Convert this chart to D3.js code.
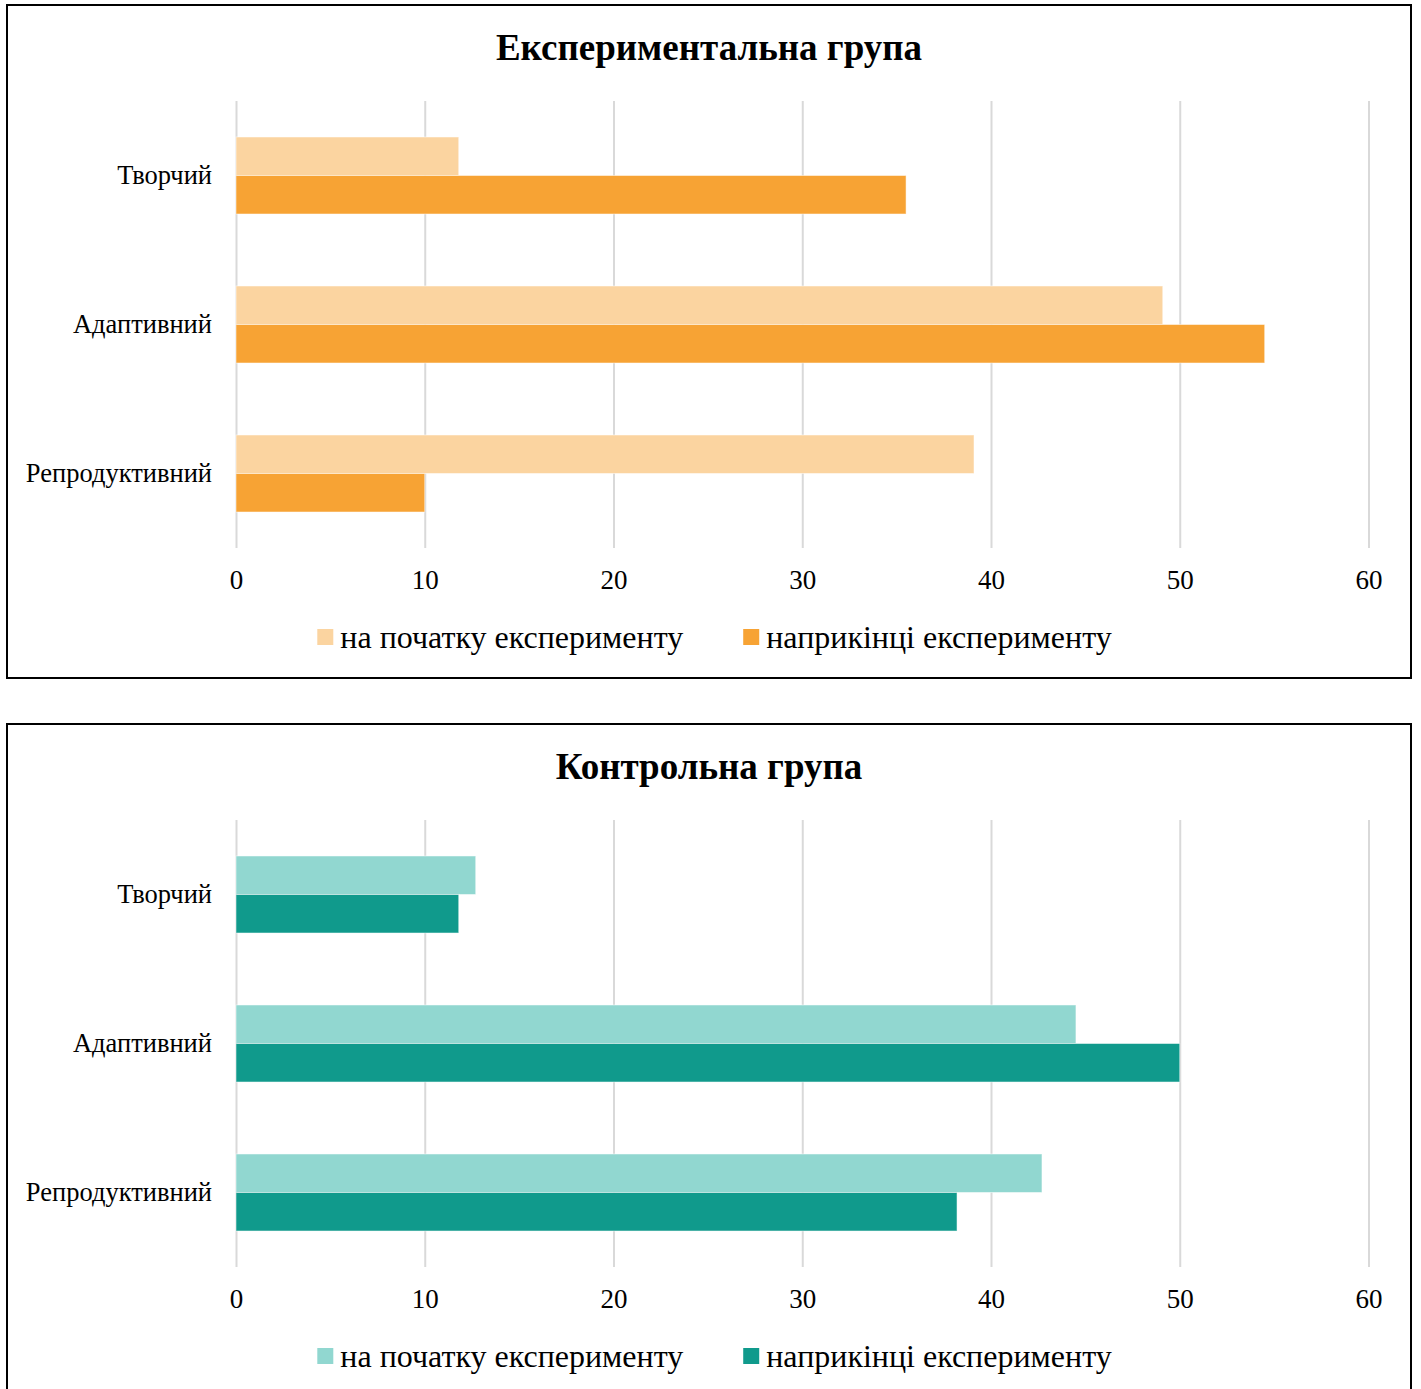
<!DOCTYPE html>
<html>
<head>
<meta charset="utf-8">
<title>Експериментальна і контрольна групи</title>
<script src="https://cdn.jsdelivr.net/npm/d3@7"></script>
<style>
    body { margin: 0; background: #fff; }
    svg text { font-family: "Liberation Serif", "Times New Roman", serif; fill: #000; }
</style>
</head>
<body>
<div id="chart"></div>
<script>
    // values (percent)
    var categories = ["Творчий", "Адаптивний", "Репродуктивний"];
    var seriesNames = ["на початку експерименту", "наприкінці експерименту"];
    var expStart = [11.8, 49.1, 39.1];
    var expEnd = [35.5, 54.5, 10.0];
    var ctrlStart = [12.7, 44.5, 42.7];
    var ctrlEnd = [11.8, 50.0, 38.2];
    var tickValues = [0, 10, 20, 30, 40, 50, 60];

    var svg = d3.select("#chart").append("svg")
        .attr("width", 1421)
        .attr("height", 1389);

    function drawPanel(top, title, startVals, endVals, colors) {
        var g = svg.append("g").attr("transform", "translate(0," + top + ")");

        g.append("rect")
            .attr("x", 7).attr("y", 5)
            .attr("width", 1404).attr("height", 673)
            .attr("fill", "#fff")
            .attr("stroke", "#000")
            .attr("stroke-width", 2);

        g.append("text")
            .attr("x", 709).attr("y", 60)
            .attr("text-anchor", "middle")
            .attr("font-size", "37px")
            .attr("font-weight", "bold")
            .text(title);

        var x = d3.scaleLinear().domain([0, 60]).range([236, 1368.5]);
        var y = d3.scaleBand().domain(categories).range([101, 548])
            .paddingInner(0.483).paddingOuter(0.2415);
        var y1 = d3.scaleBand().domain([0, 1]).range([0, y.bandwidth()]);

        // gridlines + tick labels
        var xAxis = g.append("g")
            .attr("transform", "translate(0,548)")
            .call(d3.axisBottom(x).tickValues(tickValues).tickSize(-447).tickPadding(22));
        xAxis.select(".domain").remove();
        xAxis.selectAll(".tick line").attr("stroke", "#d9d9d9").attr("stroke-width", 2);
        xAxis.selectAll(".tick text")
            .attr("font-size", "27px")
            .attr("fill", "#000");

        var rows = categories.map(function(c, i) {
            return { cat: c, vals: [startVals[i], endVals[i]] };
        });

        var grp = g.selectAll(".cat").data(rows).enter().append("g")
            .attr("transform", function(d) { return "translate(0," + y(d.cat) + ")"; });

        grp.selectAll("rect")
            .data(function(d) { return d.vals; })
            .enter().append("rect")
            .attr("x", x(0))
            .attr("y", function(d, i) { return y1(i); })
            .attr("width", function(d) { return x(d) - x(0); })
            .attr("height", y1.bandwidth())
            .attr("fill", function(d, i) { return colors[i]; })
            .attr("stroke", "#fff")
            .attr("stroke-opacity", 0.5)
            .attr("stroke-width", 1);

        // category labels
        var yAxis = g.append("g")
            .attr("transform", "translate(236,0)")
            .call(d3.axisLeft(y).tickSize(0).tickPadding(24));
        yAxis.select(".domain").remove();
        yAxis.selectAll(".tick text")
            .attr("font-size", "26.5px")
            .attr("fill", "#000");

        // legend
        var legend = g.append("g");
        var items = legend.selectAll("g").data(seriesNames).enter().append("g");
        items.append("rect")
            .attr("y", 629).attr("width", 16).attr("height", 16)
            .attr("fill", function(d, i) { return colors[i]; });
        items.append("text")
            .attr("x", 23).attr("y", 648)
            .attr("font-size", "32px")
            .text(function(d) { return d; });

        var offs = [], pos = 0;
        items.each(function() {
            offs.push(pos);
            pos += 23 + this.querySelector("text").getComputedTextLength() + 60;
        });
        var total = pos - 60;
        var startX = 714.5 - total / 2;
        items.attr("transform", function(d, i) { return "translate(" + (startX + offs[i]) + ",0)"; });
    }

    drawPanel(0, "Експериментальна група", expStart, expEnd, ["#fbd4a0", "#f7a334"]);
    drawPanel(719, "Контрольна група", ctrlStart, ctrlEnd, ["#91d7d0", "#109a8c"]);
</script>
</body>
</html>
